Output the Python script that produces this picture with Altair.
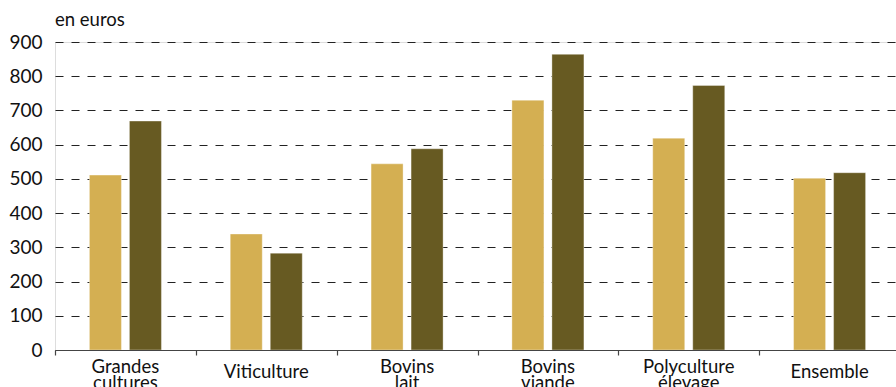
import altair as alt
import pandas as pd

categories = ["Grandes cultures", "Viticulture", "Bovins lait", "Bovins viande", "Polyculture élevage", "Ensemble"]
series_names = ["Série 1", "Série 2"]
values_1 = [511, 339, 544, 730, 619, 502]
values_2 = [669, 283, 588, 864, 773, 518]
y_ticks = [0, 100, 200, 300, 400, 500, 600, 700, 800, 900]
colors = ["#D4AF52", "#675A22"]

rows = []
for c, a, b in zip(categories, values_1, values_2):
    rows.append({"cat": c, "serie": series_names[0], "val": a})
    rows.append({"cat": c, "serie": series_names[1], "val": b})
df = pd.DataFrame(rows)
df_cat = pd.DataFrame({"cat": categories})

FONT = "Lato"
xscale = alt.Scale(domain=categories, range=[0, 845], paddingInner=0, paddingOuter=0)
xaxis = alt.Axis(title=None, labels=False,
                 tickBand="extent", ticks=True, tickSize=5, tickColor="#444444",
                 tickWidth=1.2, domain=True,
                 domainColor="#444444", domainWidth=1.2, grid=False, zindex=1)

bars = alt.Chart(df).mark_bar(stroke="#ffffff", strokeOpacity=0.35, strokeWidth=1).encode(
    x=alt.X("cat:N", sort=categories, scale=xscale, axis=xaxis),
    xOffset=alt.XOffset("serie:N", sort=series_names,
                        scale=alt.Scale(paddingInner=0.2, paddingOuter=0.86)),
    y=alt.Y("val:Q", scale=alt.Scale(domain=[0, 900], nice=False),
            axis=alt.Axis(title=None, values=y_ticks, ticks=False, domain=False,
                          labelFont=FONT, labelFontSize=19, labelColor="#111111",
                          labelPadding=13, grid=True, gridColor="#222222",
                          gridDash=[8, 8], gridWidth=1.2)),
    color=alt.Color("serie:N", sort=series_names,
                    scale=alt.Scale(domain=series_names, range=colors), legend=None),
)

lbl_two = alt.Chart(df_cat).transform_filter("indexof(datum.cat, ' ') > 0").mark_text(
    align="center", baseline="middle", font=FONT, fontSize=18.5, color="#111111",
    lineBreak=" ", lineHeight=16
).encode(x=alt.X("cat:N", sort=categories, scale=xscale, axis=xaxis),
         y=alt.value(325), text="cat:N")

lbl_one = alt.Chart(df_cat).transform_filter("indexof(datum.cat, ' ') < 0").mark_text(
    align="center", baseline="middle", font=FONT, fontSize=18.5, color="#111111"
).encode(x=alt.X("cat:N", sort=categories, scale=xscale, axis=xaxis),
         y=alt.value(330), text="cat:N")

title = alt.Chart(pd.DataFrame({"t": ["en euros"]})).mark_text(
    align="left", baseline="middle", font=FONT, fontSize=18.5, color="#111111"
).encode(x=alt.value(0), y=alt.value(-22), text="t:N")

chart = alt.layer(bars, lbl_two, lbl_one, title).properties(
    width=841, height=308,
    autosize=alt.AutoSizeParams(type="none"),
    padding={"left": 55, "top": 42, "right": 0, "bottom": 37},
).configure_view(stroke=None).configure(background="white")

chart.save("out.html", embed_options={"renderer": "svg", "actions": False})
